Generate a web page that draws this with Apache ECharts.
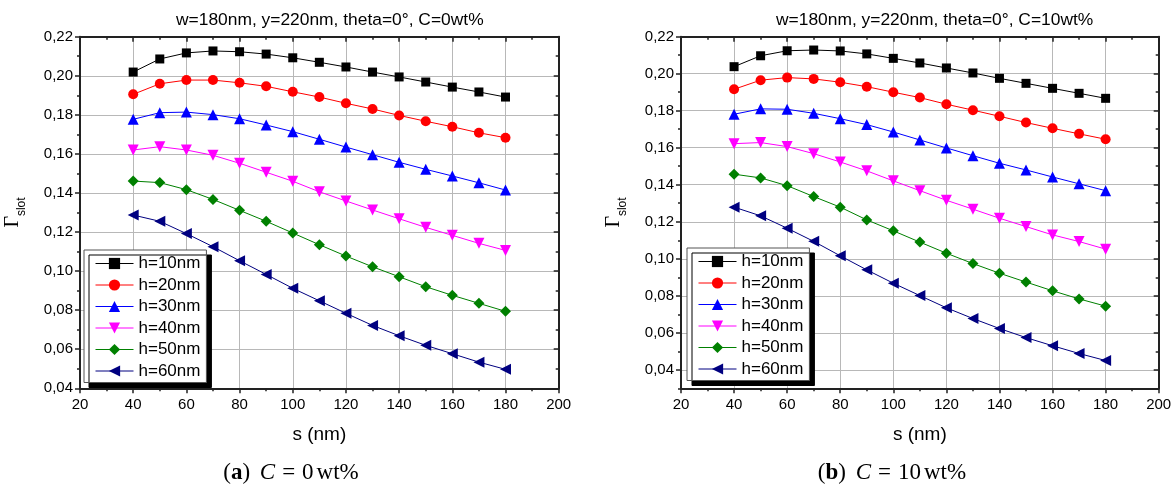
<!DOCTYPE html>
<html><head><meta charset="utf-8">
<script src="https://cdn.jsdelivr.net/npm/echarts@6/dist/echarts.min.js"></script>
<style>html,body{margin:0;padding:0;background:#fff}#c{width:1175px;height:486px}</style>
</head><body><div id="c"></div><script>
// ---------- data ----------
const sValues = [40, 50, 60, 70, 80, 90, 100, 110, 120, 130, 140, 150, 160, 170, 180];
const seriesNames = ['h=10nm', 'h=20nm', 'h=30nm', 'h=40nm', 'h=50nm', 'h=60nm'];

// (a) C = 0 wt%
const a_h10 = [0.2019, 0.2086, 0.2117, 0.2127, 0.2123, 0.2111, 0.2092, 0.2069, 0.2045, 0.2019, 0.1994, 0.1968, 0.1942, 0.1917, 0.1891];
const a_h20 = [0.1905, 0.1959, 0.1978, 0.1978, 0.1964, 0.1946, 0.1918, 0.1891, 0.1859, 0.1830, 0.1797, 0.1767, 0.1739, 0.1708, 0.1683];
const a_h30 = [0.1777, 0.1811, 0.1814, 0.1801, 0.1780, 0.1748, 0.1714, 0.1675, 0.1635, 0.1596, 0.1557, 0.1521, 0.1487, 0.1452, 0.1415];
const a_h40 = [0.1620, 0.1637, 0.1620, 0.1593, 0.1552, 0.1506, 0.1460, 0.1406, 0.1359, 0.1313, 0.1268, 0.1224, 0.1183, 0.1142, 0.1106];
const a_h50 = [0.1461, 0.1453, 0.1417, 0.1367, 0.1311, 0.1255, 0.1195, 0.1135, 0.1077, 0.1022, 0.0971, 0.0920, 0.0876, 0.0835, 0.0794];
const a_h60 = [0.1287, 0.1255, 0.1192, 0.1125, 0.1053, 0.0983, 0.0912, 0.0848, 0.0784, 0.0722, 0.0669, 0.0620, 0.0577, 0.0534, 0.0497];

// (b) C = 10 wt%
const b_h10 = [0.2038, 0.2097, 0.2124, 0.2128, 0.2123, 0.2107, 0.2083, 0.2058, 0.2031, 0.2004, 0.1975, 0.1948, 0.1921, 0.1894, 0.1867];
const b_h20 = [0.1916, 0.1965, 0.1979, 0.1972, 0.1954, 0.1930, 0.1900, 0.1871, 0.1835, 0.1803, 0.1770, 0.1736, 0.1705, 0.1675, 0.1646];
const b_h30 = [0.1781, 0.1810, 0.1808, 0.1786, 0.1757, 0.1725, 0.1685, 0.1642, 0.1599, 0.1557, 0.1516, 0.1480, 0.1442, 0.1405, 0.1368];
const b_h40 = [0.1622, 0.1628, 0.1606, 0.1568, 0.1523, 0.1475, 0.1421, 0.1368, 0.1316, 0.1268, 0.1219, 0.1174, 0.1129, 0.1093, 0.1052];
const b_h50 = [0.1457, 0.1437, 0.1395, 0.1336, 0.1279, 0.1210, 0.1151, 0.1090, 0.1030, 0.0974, 0.0922, 0.0874, 0.0827, 0.0783, 0.0744];
const b_h60 = [0.1279, 0.1232, 0.1165, 0.1094, 0.1016, 0.0940, 0.0868, 0.0801, 0.0735, 0.0677, 0.0623, 0.0574, 0.0530, 0.0488, 0.0450];

// tick values
const yTicksA = [0.04, 0.06, 0.08, 0.10, 0.12, 0.14, 0.16, 0.18, 0.20, 0.22];
const yMinorA = [0.05, 0.07, 0.09, 0.11, 0.13, 0.15, 0.17, 0.19, 0.21];
const yTicksB = [0.04, 0.06, 0.08, 0.10, 0.12, 0.14, 0.16, 0.18, 0.20, 0.22];
const yMinorB = [0.03, 0.05, 0.07, 0.09, 0.11, 0.13, 0.15, 0.17, 0.19, 0.21];
const xTicks = [20, 40, 60, 80, 100, 120, 140, 160, 180, 200];

const titleA = 'w=180nm, y=220nm, theta=0°, C=0wt%';
const titleB = 'w=180nm, y=220nm, theta=0°, C=10wt%';

// ---------- styles ----------
const SANS = "'Liberation Sans', Arial, sans-serif";
const SERIF = "'Liberation Serif', 'Times New Roman', serif";
const colors = ['#000000', '#ff0000', '#0000ff', '#ff00ff', '#008000', '#000080'];
const symbols = ['rect', 'circle', 'triangle', 'triangle', 'diamond', 'triangle'];
const rotates = [0, 0, 0, 180, 0, 90];
const sizes = [9, 10, 11, 11, 11, 11];
const AXC = '#222';
const GRIDC = '#b8b8b8';

const grids = [
  {left: 80, top: 36.7, width: 478.7, height: 351.6},
  {left: 681, top: 36.7, width: 477.7, height: 351.6}
];

function xAxes(g) {
  const common = {type: 'value', gridIndex: g, min: xTicks[0], max: xTicks[xTicks.length - 1], interval: xTicks[1] - xTicks[0]};
  return [
    Object.assign({}, common, {
      position: 'bottom',
      axisLine: {show: true, onZero: false, lineStyle: {color: AXC, width: 2}},
      axisTick: {show: true, inside: false, length: 5, lineStyle: {color: AXC, width: 1.5}},
      minorTick: {show: true, splitNumber: 2, length: 3, lineStyle: {color: AXC, width: 1.5}},
      splitLine: {show: true, lineStyle: {color: GRIDC, width: 1}},
      axisLabel: {show: true, fontSize: 15, color: '#000', fontFamily: SANS, margin: 9},
      name: 's (nm)', nameLocation: 'middle', nameGap: 37,
      nameTextStyle: {fontSize: 19, color: '#000', fontFamily: SANS}
    }),
    Object.assign({}, common, {
      position: 'top',
      axisLine: {show: true, onZero: false, lineStyle: {color: AXC, width: 2}},
      axisTick: {show: true, inside: true, length: 5, lineStyle: {color: AXC, width: 1.5}},
      minorTick: {show: true, splitNumber: 2, length: 3, lineStyle: {color: AXC, width: 1.5}},
      splitLine: {show: false},
      axisLabel: {show: false}
    })
  ];
}

function fmt(v) { return v.toFixed(2).replace('.', ','); }

function yAxes(g, min, max, ticks, minor, useInterval) {
  const common = {type: 'value', gridIndex: g, min: min, max: max};
  const main = Object.assign({}, common, {
    position: 'left',
    axisLine: {show: true, onZero: false, lineStyle: {color: AXC, width: 2}},
    axisTick: {show: true, inside: false, length: 5, customValues: ticks, lineStyle: {color: AXC, width: 1.5}},
    axisLabel: {show: true, customValues: ticks, formatter: fmt, fontSize: 15, color: '#000', fontFamily: SANS, margin: 7},
    splitLine: {show: true, lineStyle: {color: GRIDC, width: 1}},
    name: '{g|Γ}{s|slot}', nameLocation: 'middle', nameGap: 52, nameRotate: 90,
    nameTextStyle: {
      color: '#000',
      rich: {
        g: {fontSize: 20, fontFamily: SERIF, color: '#000', verticalAlign: 'top', lineHeight: 25},
        s: {fontSize: 12, fontFamily: SANS, color: '#000', verticalAlign: 'bottom', lineHeight: 25}
      }
    }
  });
  if (useInterval) main.interval = ticks[1] - ticks[0];
  return [
    main,
    Object.assign({}, common, {
      position: 'left',
      axisLine: {show: false},
      axisTick: {show: true, inside: false, length: 3, customValues: minor, lineStyle: {color: AXC, width: 1.5}},
      axisLabel: {show: false}, splitLine: {show: false}
    }),
    Object.assign({}, common, {
      position: 'right',
      axisLine: {show: true, onZero: false, lineStyle: {color: AXC, width: 2}},
      axisTick: {show: true, inside: true, length: 5, customValues: ticks, lineStyle: {color: AXC, width: 1.5}},
      axisLabel: {show: false}, splitLine: {show: false}
    }),
    Object.assign({}, common, {
      position: 'right',
      axisLine: {show: false},
      axisTick: {show: true, inside: true, length: 3, customValues: minor, lineStyle: {color: AXC, width: 1.5}},
      axisLabel: {show: false}, splitLine: {show: false}
    })
  ];
}

function buildSeries(groups, g) {
  return groups.map((vals, i) => ({
    type: 'line', name: seriesNames[i], xAxisIndex: g * 2, yAxisIndex: g * 4,
    data: sValues.map((s, k) => [s, vals[k]]),
    symbol: symbols[i], symbolRotate: rotates[i], symbolSize: sizes[i],
    lineStyle: {color: colors[i], width: 1},
    itemStyle: {color: colors[i]},
    emphasis: {disabled: true}, silent: true, animation: false
  }));
}

function legend(left, top) {
  return {
    data: seriesNames, orient: 'vertical', left: left, top: top,
    padding: [5, 6, 3, 11], itemWidth: 38, itemHeight: 14, itemGap: 4.5,
    backgroundColor: '#fff', borderColor: '#555', borderWidth: 1, borderRadius: 0,
    shadowColor: '#000', shadowOffsetX: 5, shadowOffsetY: 5, shadowBlur: 0,
    selectedMode: false,
    lineStyle: {width: 1},
    itemStyle: {borderWidth: 0},
    textStyle: {fontSize: 17, color: '#000', fontFamily: SANS}
  };
}

function caption(letter, value, cx) {
  const base = {fontSize: 23, fontFamily: SERIF, color: '#000'};
  return {
    type: 'text', x: cx, y: 473,
    style: {
      text: '{n|(}{b|' + letter + '}{n|)}{sp| }{i|C}{eq|=}{n|' + value + '}{sp2| }{n|wt%}',
      align: 'center', verticalAlign: 'middle', fill: '#000',
      rich: {
        n: base,
        b: Object.assign({}, base, {fontWeight: 'bold'}),
        i: Object.assign({}, base, {fontStyle: 'italic'}),
        eq: Object.assign({}, base, {padding: [0, 7, 0, 7]}),
        sp: Object.assign({}, base, {padding: [0, 2, 0, 2]}),
        sp2: Object.assign({}, base, {fontSize: 12})
      }
    }
  };
}

const chart = echarts.init(document.getElementById('c'), null, {renderer: 'canvas'});
chart.setOption({
  animation: false,
  backgroundColor: '#fff',
  textStyle: {fontFamily: SANS},
  title: [
    {text: titleA, left: 176, top: 12, padding: 0, textStyle: {fontSize: 17.4, fontWeight: 'normal', color: '#000', fontFamily: SANS}},
    {text: titleB, left: 776, top: 12, padding: 0, textStyle: {fontSize: 17.4, fontWeight: 'normal', color: '#000', fontFamily: SANS}}
  ],
  grid: grids,
  xAxis: xAxes(0).concat(xAxes(1)),
  yAxis: yAxes(0, 0.04, 0.22, yTicksA, yMinorA, true).concat(yAxes(1, 0.03, 0.22, yTicksB, yMinorB, false)),
  legend: [legend(84, 250), legend(687, 248)],
  series: buildSeries([a_h10, a_h20, a_h30, a_h40, a_h50, a_h60], 0)
    .concat(buildSeries([b_h10, b_h20, b_h30, b_h40, b_h50, b_h60], 1)),
  graphic: [caption('a', '0', 291), caption('b', '10', 892)]
});
</script></body></html>
